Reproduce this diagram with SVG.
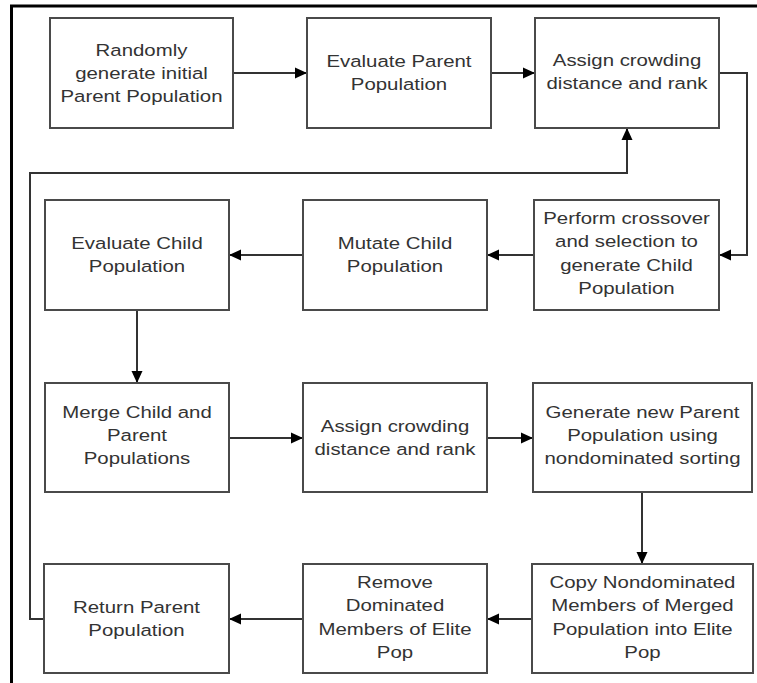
<svg xmlns="http://www.w3.org/2000/svg" width="757" height="683" viewBox="0 0 757 683">
  <defs>
    <marker id="arrow" viewBox="0 0 12 12" markerWidth="12" markerHeight="12" refX="12" refY="6" orient="auto" markerUnits="userSpaceOnUse">
      <path d="M0,0.5 L12,6 L0,11.5 Z" fill="#000"/>
    </marker>
  </defs>
  <style>
    .frame { fill: #fff; stroke: #000; stroke-width: 3; }
    .box { fill: #fff; stroke: #4a4a4a; stroke-width: 2; }
    .lbl { font-family: "Liberation Sans", Arial, sans-serif; font-size: 17px; fill: #333; text-anchor: middle; }
    .conn { fill: none; stroke: #333; stroke-width: 2; }
    .conn path { marker-end: url(#arrow); }
  </style>

  <!-- outer frame -->
  <rect class="frame" x="11.5" y="6" width="800" height="720"/>

  <!-- connectors -->
  <g id="connectors" class="conn">
    <path d="M233,73 H307"/>
    <path d="M491,73 H535"/>
    <path d="M719,73 H747 V255 H719"/>
    <path d="M534,255 H487"/>
    <path d="M303,255 H229"/>
    <path d="M137,310 V383"/>
    <path d="M229,438 H303"/>
    <path d="M487,438 H533"/>
    <path d="M642,492 V564"/>
    <path d="M532,619 H487"/>
    <path d="M303,619 H229"/>
    <path d="M44,619 H30 V173 H627 V128"/>
  </g>

  <!-- row 1 -->
  <g id="init">
    <rect class="box" x="50" y="18" width="183" height="110"/>
    <text class="lbl" transform="translate(141.5 0) scale(1.2 1)"><tspan x="0" y="56">Randomly</tspan><tspan x="0" y="79">generate initial</tspan><tspan x="0" y="102">Parent Population</tspan></text>
  </g>
  <g id="evalParent">
    <rect class="box" x="307" y="18" width="184" height="110"/>
    <text class="lbl" transform="translate(399 0) scale(1.2 1)"><tspan x="0" y="67">Evaluate Parent</tspan><tspan x="0" y="90">Population</tspan></text>
  </g>
  <g id="assign1">
    <rect class="box" x="535" y="18" width="184" height="110"/>
    <text class="lbl" transform="translate(627 0) scale(1.2 1)"><tspan x="0" y="66">Assign crowding</tspan><tspan x="0" y="89">distance and rank</tspan></text>
  </g>

  <!-- row 2 -->
  <g id="evalChild">
    <rect class="box" x="45" y="200" width="184" height="110"/>
    <text class="lbl" transform="translate(137 0) scale(1.2 1)"><tspan x="0" y="249">Evaluate Child</tspan><tspan x="0" y="272">Population</tspan></text>
  </g>
  <g id="mutate">
    <rect class="box" x="303" y="200" width="184" height="110"/>
    <text class="lbl" transform="translate(395 0) scale(1.2 1)"><tspan x="0" y="249">Mutate Child</tspan><tspan x="0" y="272">Population</tspan></text>
  </g>
  <g id="crossover">
    <rect class="box" x="534" y="200" width="185" height="110"/>
    <text class="lbl" transform="translate(626.5 0) scale(1.2 1)"><tspan x="0" y="224">Perform crossover</tspan><tspan x="0" y="247.5">and selection to</tspan><tspan x="0" y="271">generate Child</tspan><tspan x="0" y="294.5">Population</tspan></text>
  </g>

  <!-- row 3 -->
  <g id="merge">
    <rect class="box" x="45" y="383" width="184" height="109"/>
    <text class="lbl" transform="translate(137 0) scale(1.2 1)"><tspan x="0" y="418">Merge Child and</tspan><tspan x="0" y="441">Parent</tspan><tspan x="0" y="464">Populations</tspan></text>
  </g>
  <g id="assign2">
    <rect class="box" x="303" y="383" width="184" height="109"/>
    <text class="lbl" transform="translate(395 0) scale(1.2 1)"><tspan x="0" y="432">Assign crowding</tspan><tspan x="0" y="455">distance and rank</tspan></text>
  </g>
  <g id="newParent">
    <rect class="box" x="533" y="383" width="219" height="109"/>
    <text class="lbl" transform="translate(642.5 0) scale(1.2 1)"><tspan x="0" y="418">Generate new Parent</tspan><tspan x="0" y="441">Population using</tspan><tspan x="0" y="464">nondominated sorting</tspan></text>
  </g>

  <!-- row 4 -->
  <g id="returnParent">
    <rect class="box" x="44" y="564" width="185" height="109"/>
    <text class="lbl" transform="translate(136.5 0) scale(1.2 1)"><tspan x="0" y="613">Return Parent</tspan><tspan x="0" y="636">Population</tspan></text>
  </g>
  <g id="removeDominated">
    <rect class="box" x="303" y="564" width="184" height="109"/>
    <text class="lbl" transform="translate(395 0) scale(1.2 1)"><tspan x="0" y="588">Remove</tspan><tspan x="0" y="611.5">Dominated</tspan><tspan x="0" y="635">Members of Elite</tspan><tspan x="0" y="658.5">Pop</tspan></text>
  </g>
  <g id="copyElite">
    <rect class="box" x="532" y="564" width="221" height="109"/>
    <text class="lbl" transform="translate(642.5 0) scale(1.2 1)"><tspan x="0" y="588">Copy Nondominated</tspan><tspan x="0" y="611.5">Members of Merged</tspan><tspan x="0" y="635">Population into Elite</tspan><tspan x="0" y="658.5">Pop</tspan></text>
  </g>
</svg>
